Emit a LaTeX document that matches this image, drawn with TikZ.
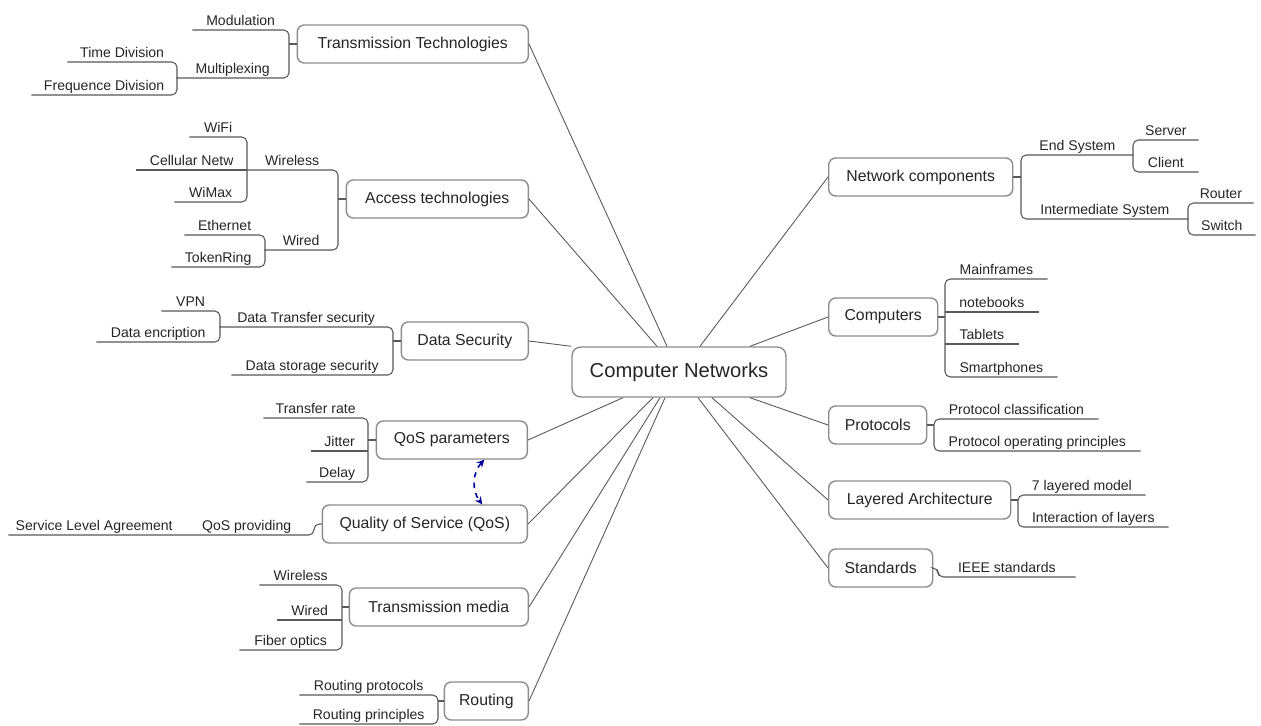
\documentclass[tikz,border=0pt]{standalone}
\usepackage{fontspec}
\setmainfont{Liberation Sans}

\begin{document}
\begin{tikzpicture}[x=0.02cm,y=-0.02cm,
    every node/.style={text=black!85},
    root/.style={draw=black!45, line width=0.8pt, rounded corners=5pt, font=\fontsize{11.5}{13}\selectfont, minimum width=4.28cm, minimum height=1cm},
    topic/.style={draw=black!45, line width=0.8pt, rounded corners=4pt, font=\fontsize{9}{11}\selectfont, minimum height=0.76cm, inner sep=0pt, minimum width=#1*0.02cm},
    leaf/.style={font=\fontsize{8}{9}\selectfont, inner xsep=0pt, inner ysep=2.4pt, text height=6pt, text depth=0pt},
    lft/.style={leaf, anchor=south east, minimum width=#1*0.02cm},
    rgt/.style={leaf, anchor=south west, minimum width=#1*0.02cm},
    brk/.style={draw=black!65, line width=0.6pt, rounded corners=3pt},
    spoke/.style={draw=black!65, line width=0.5pt},
    qlink/.style={<->, >=stealth, dashed, draw=blue!60!black, line width=0.9pt}]
    \path[fill=white] (0,0) rectangle (1261,726);
    % centre
    \node[root] (cn) at (679,372) {Computer Networks};
    % left topics
    \node[topic=231, anchor=east] (tt) at (529,44) {Transmission Technologies};
    \node[topic=182, anchor=east] (acc) at (529,199) {Access technologies};
    \node[topic=127, anchor=east] (dsec) at (529,341) {Data Security};
    \node[topic=151, anchor=east] (qpar) at (528,440) {QoS parameters};
    \node[topic=205, anchor=east] (qos) at (528,524) {Quality of Service (QoS)};
    \node[topic=179, anchor=east] (tmed) at (529,607) {Transmission media};
    \node[topic=84, anchor=east] (rout) at (529,701) {Routing};
    % right topics
    \node[topic=184, anchor=west] (ncomp) at (828,177) {Network components};
    \node[topic=109, anchor=west] (comp) at (828,317) {Computers};
    \node[topic=98, anchor=west] (prot) at (828,425) {Protocols};
    \node[topic=182, anchor=west] (layer) at (828,500) {Layered Architecture};
    \node[topic=104, anchor=west] (stand) at (828,568) {Standards};

    % spokes
    \draw[spoke] (tt.east) -- ([xshift=-0.24cm]cn.north);
    \draw[spoke] (acc.east) -- ([xshift=-0.44cm]cn.north);
    \draw[spoke] (dsec.east) -- (cn.north west);
    \draw[spoke] (qpar.east) -- ([xshift=-1.12cm]cn.south);
    \draw[spoke] (qos.east) -- ([xshift=-0.52cm]cn.south);
    \draw[spoke] (tmed.east) -- ([xshift=-0.38cm]cn.south);
    \draw[spoke] (rout.east) -- ([xshift=-0.28cm]cn.south);
    \draw[spoke] (ncomp.west) -- ([xshift=0.42cm]cn.north);
    \draw[spoke] (comp.west) -- ([xshift=1.42cm]cn.north);
    \draw[spoke] (prot.west) -- ([xshift=1.42cm]cn.south);
    \draw[spoke] (layer.west) -- ([xshift=0.66cm]cn.south);
    \draw[spoke] (stand.west) -- ([xshift=0.38cm]cn.south);

    % Transmission Technologies
    \node[lft=96] (modu) at (289,30) {Modulation};
    \node[lft=112] (mplx) at (289,78) {Multiplexing};
    \node[lft=109] (tdiv) at (177,62) {Time Division};
    \node[lft=145] (fdiv) at (177,95) {Frequence Division};
    \draw[brk] (tt.west) -- (tt.west -| modu.south east);
    \draw[brk] (modu.south west) -- (modu.south east) -- (mplx.south east) -- (mplx.south west);
    \draw[brk] (tdiv.south west) -- (tdiv.south east) -- (fdiv.south east) -- (fdiv.south west);

    % Access technologies
    \node[lft=91] (wles) at (338,170) {Wireless};
    \node[lft=73] (wred) at (338,250) {Wired};
    \node[lft=57] (wifi) at (247,137) {WiFi};
    \node[lft=110] (cell) at (247,170) {Cellular Netw};
    \node[lft=72] (wmax) at (247,202) {WiMax};
    \node[lft=80] (ethr) at (265,235) {Ethernet};
    \node[lft=93] (tokn) at (265,267) {TokenRing};
    \draw[brk] (acc.west) -- (acc.west -| wles.south east);
    \draw[brk] (wles.south west) -- (wles.south east) -- (wred.south east) -- (wred.south west);
    \draw[brk] (wifi.south west) -- (wifi.south east) -- (wmax.south east) -- (wmax.south west);
    \draw[brk] (cell.south west) -- (cell.south east);
    \draw[brk] (ethr.south west) -- (ethr.south east) -- (tokn.south east) -- (tokn.south west);

    % Data Security
    \node[lft=173] (dtsec) at (393,327) {Data Transfer security};
    \node[lft=161] (dssec) at (393,375) {Data storage security};
    \node[lft=58] (vpn) at (220,311) {VPN};
    \node[lft=123] (denc) at (220,342) {Data encription};
    \draw[brk] (dsec.west) -- (dsec.west -| dtsec.south east);
    \draw[brk] (dtsec.south west) -- (dtsec.south east) -- (dssec.south east) -- (dssec.south west);
    \draw[brk] (vpn.south west) -- (vpn.south east) -- (denc.south east) -- (denc.south west);

    % QoS parameters
    \node[lft=104] (trate) at (368,418) {Transfer rate};
    \node[lft=56] (jitt) at (368,451) {Jitter};
    \node[lft=61] (dely) at (368,482) {Delay};
    \draw[brk] (qpar.west) -- (qpar.west -| trate.south east);
    \draw[brk] (trate.south west) -- (trate.south east) -- (dely.south east) -- (dely.south west);
    \draw[brk] (jitt.south west) -- (jitt.south east);

    % Quality of Service
    \node[lft=134] (qprov) at (314,535) {QoS providing};
    \node[lft=171] (sla) at (180,535) {Service Level Agreement};
    \draw[brk] (qos.west) -| (qprov.south east) -- (qprov.south west) -- (sla.south west);
    \draw[qlink] ([xshift=0.65cm]qpar.south) to[bend right=40] ([xshift=1.15cm]qos.north);

    % Transmission media
    \node[lft=82] (twl) at (342,585) {Wireless};
    \node[lft=64] (twd) at (342,620) {Wired};
    \node[lft=102] (fopt) at (342,650) {Fiber optics};
    \draw[brk] (tmed.west) -- (tmed.west -| twl.south east);
    \draw[brk] (twl.south west) -- (twl.south east) -- (fopt.south east) -- (fopt.south west);
    \draw[brk] (twd.south west) -- (twd.south east);

    % Routing
    \node[lft=138] (rprot) at (438,695) {Routing protocols};
    \node[lft=138] (rprin) at (438,724) {Routing principles};
    \draw[brk] (rout.west) -- (rout.west -| rprot.south east);
    \draw[brk] (rprot.south west) -- (rprot.south east) -- (rprin.south east) -- (rprin.south west);

    % Network components
    \node[rgt=112] (esys) at (1021,155) {End System};
    \node[rgt=167] (isys) at (1021,219) {Intermediate System};
    \node[rgt=65] (serv) at (1133,140) {Server};
    \node[rgt=65] (clnt) at (1133,172) {Client};
    \node[rgt=65] (rtr) at (1188,203) {Router};
    \node[rgt=67] (swch) at (1188,235) {Switch};
    \draw[brk] (ncomp.east) -- (ncomp.east -| esys.south west);
    \draw[brk] (esys.south east) -- (esys.south west) -- (isys.south west) -- (isys.south east);
    \draw[brk] (serv.south east) -- (serv.south west) -- (clnt.south west) -- (clnt.south east);
    \draw[brk] (rtr.south east) -- (rtr.south west) -- (swch.south west) -- (swch.south east);

    % Computers
    \node[rgt=102] (mfr) at (945,279) {Mainframes};
    \node[rgt=93] (ntb) at (945,312) {notebooks};
    \node[rgt=73] (tab) at (945,344) {Tablets};
    \node[rgt=112] (smph) at (945,377) {Smartphones};
    \draw[brk] (comp.east) -- (comp.east -| mfr.south west);
    \draw[brk] (mfr.south east) -- (mfr.south west) -- (smph.south west) -- (smph.south east);
    \draw[brk] (ntb.south west) -- (ntb.south east);
    \draw[brk] (tab.south west) -- (tab.south east);

    % Protocols
    \node[rgt=164] (pcls) at (934,419) {Protocol classification};
    \node[rgt=206] (pops) at (934,451) {Protocol operating principles};
    \draw[brk] (prot.east) -- (prot.east -| pcls.south west);
    \draw[brk] (pcls.south east) -- (pcls.south west) -- (pops.south west) -- (pops.south east);

    % Layered Architecture
    \node[rgt=127] (lsev) at (1018,495) {7 layered model};
    \node[rgt=150] (lint) at (1018,527) {Interaction of layers};
    \draw[brk] (layer.east) -- (layer.east -| lsev.south west);
    \draw[brk] (lsev.south east) -- (lsev.south west) -- (lint.south west) -- (lint.south east);

    % Standards
    \node[rgt=137] (ieee) at (938,577) {IEEE standards};
    \draw[brk] (stand.east) -| (ieee.south west) -- (ieee.south east);
\end{tikzpicture}
\end{document}
